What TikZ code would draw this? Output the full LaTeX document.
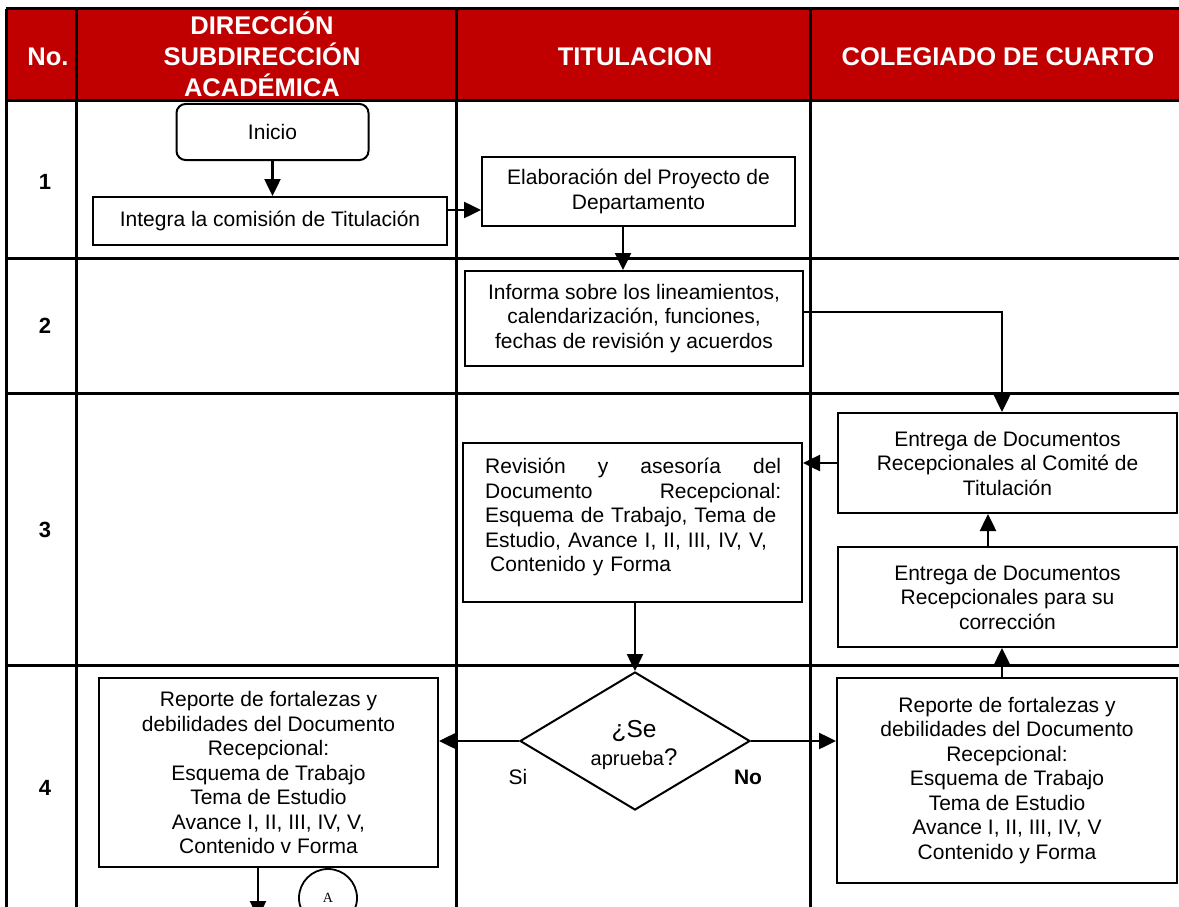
\documentclass[tikz,border=0pt]{standalone}
\usepackage{fontspec}
\setmainfont{Liberation Sans}
\newfontfamily\serifA{Liberation Serif}
\usetikzlibrary{arrows.meta,shapes.geometric}
\definecolor{hdrred}{RGB}{192,0,0}
\newcommand\myBody{\fontsize{21}{24.5}\selectfont}
\newcommand\myHead{\bfseries\fontsize{25.5}{31}\selectfont}
\newcommand\fullline[1]{\leavevmode\hbox to 296pt{#1}}
\begin{document}
\begin{tikzpicture}[x=1pt,y=-1pt,
  tline/.style={line width=3pt},
  box/.style={draw, line width=2pt, fill=white, align=center, inner sep=0pt, font=\myBody},
  arr/.style={line width=2.5pt, -{Triangle[length=17pt,width=16pt]}},
  hdr/.style={text=white, font=\myHead, align=center, inner sep=0pt},
  rownum/.style={font=\bfseries\fontsize{22}{24}\selectfont, inner sep=0pt},
  lbl/.style={font=\myBody, inner sep=0pt}]
\useasboundingbox (0,0) rectangle (1179,907);
\clip (0,0) rectangle (1179,907);
% header
\fill[hdrred] (6,9) rectangle (1179,101);
\node[hdr] (hNo) at (48,57) {No.};
\node[hdr] (hDir) at (262,54) {DIRECCIÓN\\SUBDIRECCIÓN\\ACADÉMICA};
\node[hdr] (hTit) at (635,57) {TITULACION};
\node[hdr] (hCol) at (998,57) {COLEGIADO DE CUARTO};
% table lines
\draw[tline] (6,9) -- (1179,9);
\foreach \yy in {101,258,393,665} {\draw[tline] (6,\yy) -- (1179,\yy);}
\foreach \xx in {6,76,456,810} {\draw[tline] (\xx,9) -- (\xx,907);}
% row numbers
\node[rownum] (r1) at (45,182) {1};
\node[rownum] (r2) at (45,326) {2};
\node[rownum] (r3) at (45,530) {3};
\node[rownum] (r4) at (45,788) {4};
% boxes
\node[box, rounded corners=9pt, minimum width=192pt, minimum height=56pt] (inicio) at (272.5,132) {Inicio};
\node[box, minimum width=354pt, minimum height=48pt] (integra) at (270,221) {Integra la comisión de Titulación};
\node[box, minimum width=313pt, minimum height=69pt] (elab) at (638.5,191.5) {Elaboración del Proyecto de\\Departamento};
\node[box, minimum width=338pt, minimum height=95pt] (informa) at (634,318.5) {Informa sobre los lineamientos,\\calendarización, funciones,\\fechas de revisión y acuerdos};
\node[box, minimum width=339pt, minimum height=100pt] (ent1) at (1007.5,463) {Entrega de Documentos\\Recepcionales al Comité de\\Titulación};
\node[box, minimum width=339pt, minimum height=100pt] (ent2) at (1007.5,597) {Entrega de Documentos\\Recepcionales para su\\corrección};
\node[box, minimum width=339pt, minimum height=159pt] (rev) at (632.5,522.5) {};
\node[lbl, text width=296pt, align=left, anchor=west] (revtxt) at (485,517) {\fullline{Revisión\hfill y\hfill asesoría\hfill del}\\\fullline{Documento\hfill Recepcional:}\\Esquema de Trabajo, Tema de\\Estudio, Avance I, II, III, IV, V,\\\hspace*{5pt}Contenido y Forma};
\node[draw, diamond, line width=2pt, fill=white, aspect=1.667, minimum width=230pt, minimum height=138pt, inner sep=0pt] (dia) at (635,741) {};
\node[inner sep=0pt, align=center] (diatxt) at (634,745) {{\fontsize{24.5}{30}\selectfont ¿Se}\\[7pt]{\fontsize{20}{20}\selectfont aprueba}{\fontsize{24}{20}\selectfont ?}};
\node[lbl] (si) at (518,777) {Si};
\node[lbl, font=\bfseries\myBody] (no) at (748,777) {No};
\node[box, minimum width=339pt, minimum height=189pt] (repL) at (268.5,772.5) {Reporte de fortalezas y\\debilidades del Documento\\Recepcional:\\Esquema de Trabajo\\Tema de Estudio\\Avance I, II, III, IV, V,\\Contenido v Forma};
\node[box, minimum width=340pt, minimum height=205pt] (repR) at (1007,780.5) {Reporte de fortalezas y\\debilidades del Documento\\Recepcional:\\Esquema de Trabajo\\Tema de Estudio\\Avance I, II, III, IV, V\\Contenido y Forma};
\node[draw, circle, line width=1.8pt, minimum size=58pt, inner sep=0pt, font=\serifA\fontsize{14}{14}\selectfont] (cA) at (328,898) {A\\[4pt]};
% connectors
\draw[arr] (inicio.south) -- (inicio.south |- integra.north);
\coordinate (p1) at ([yshift=11pt]integra.east);
\draw[arr] (p1) -- (p1 -| elab.west);
\coordinate (p2) at ([xshift=-15.5pt]elab.south);
\draw[arr] (p2) -- (p2 |- informa.north);
\coordinate (p3) at ([yshift=6.5pt]informa.east);
\coordinate (p4) at ([xshift=-5.5pt]ent1.north);
\draw[arr] (p3) -| (p4);
\draw[arr] (ent1.west) -- (ent1.west -| rev.east);
\coordinate (p5) at ([xshift=-19.5pt]ent2.north);
\draw[arr] (p5) -- (p5 |- ent1.south);
\draw[arr] (dia.north |- rev.south) -- (dia.north);
\draw[arr] (dia.west) -- (dia.west -| repL.east);
\draw[arr] (dia.east) -- (dia.east -| repR.west);
\coordinate (p6) at ([xshift=-5pt]repR.north);
\draw[arr] (p6) -- (p6 |- ent2.south);
\coordinate (p7) at ([xshift=-10.5pt]repL.south);
\coordinate (pend) at (258,918);
\draw[arr] (p7) -- (pend);
\end{tikzpicture}
\end{document}
